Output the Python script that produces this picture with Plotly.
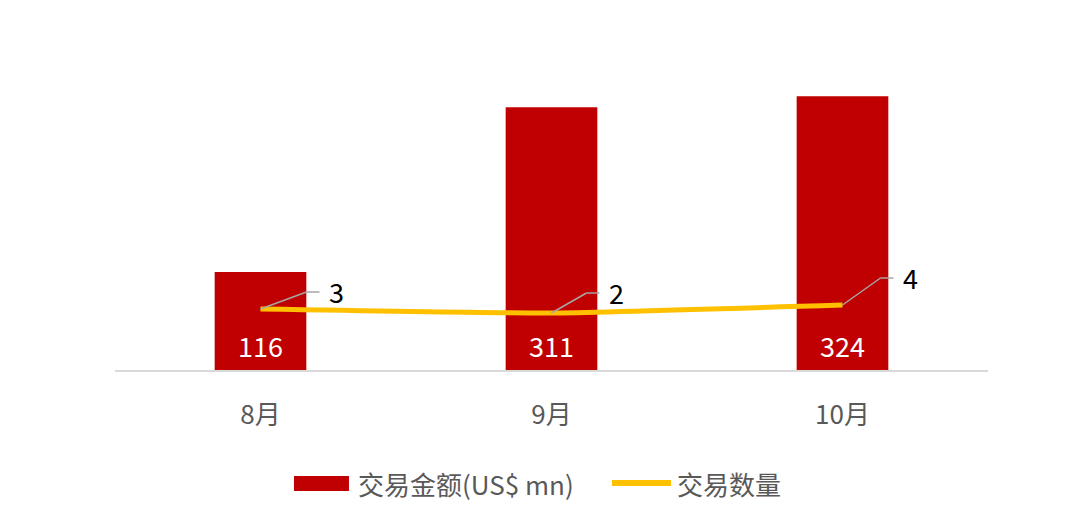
import plotly.graph_objects as go

# data
months = ["8月", "9月", "10月"]
deal_value = [116, 311, 324]   # 交易金额(US$ mn)
deal_count = [3, 2, 4]         # 交易数量
legend_names = ["交易金额(US$ mn)", "交易数量"]

# leader line offsets (px) for the count labels: diagonal end, then a short horizontal
leader_dx = [46, 35, 38]
leader_dy = [17, 20, 27]

bar_color = "#C00000"
line_color = "#FFC000"
grey_text = "#595959"
font_cn = "Noto Sans CJK SC, Noto Sans, sans-serif"

fig = go.Figure()

fig.add_trace(go.Bar(x=months, y=deal_value, name=legend_names[0],
                     marker=dict(color=bar_color, line=dict(width=0)),
                     width=0.315))

fig.add_trace(go.Scatter(x=months, y=deal_count, name=legend_names[1], yaxis="y2",
                         mode="lines",
                         line=dict(color=line_color, width=5, shape="spline", smoothing=0.4)))

annotations = []
shapes = []
for i, (m, v) in enumerate(zip(months, deal_value)):
    # value label at the foot of each bar
    annotations.append(dict(x=m, y=0, xref="x", yref="y", text=str(v),
                            showarrow=False, yanchor="bottom", yshift=3,
                            font=dict(size=27, color="white", family=font_cn)))

for i, (m, c) in enumerate(zip(months, deal_count)):
    dx, dy = leader_dx[i], leader_dy[i]
    # leader: diagonal from the point, then horizontal stub
    shapes.append(dict(type="line", xref="x", yref="y2",
                       xsizemode="pixel", ysizemode="pixel",
                       xanchor=i, yanchor=c,
                       x0=0, y0=0, x1=dx, y1=dy,
                       line=dict(color="#A6A6A6", width=1.5)))
    shapes.append(dict(type="line", xref="x", yref="y2",
                       xsizemode="pixel", ysizemode="pixel",
                       xanchor=i, yanchor=c,
                       x0=dx, y0=dy, x1=dx + 13, y1=dy,
                       line=dict(color="#A6A6A6", width=1.5)))
    annotations.append(dict(x=m, y=c, xref="x", yref="y2", text=str(c),
                            showarrow=False, xanchor="left",
                            xshift=dx + 20, yshift=dy + 1,
                            font=dict(size=27, color="black", family=font_cn)))

# legend drawn by hand so the swatches get the wide Office look
shapes.append(dict(type="rect", xref="paper", yref="paper",
                   x0=0.205, x1=0.268, y0=-0.358, y1=-0.3136,
                   fillcolor=bar_color, line=dict(width=0)))
shapes.append(dict(type="line", xref="paper", yref="paper",
                   x0=0.5693, x1=0.6369, y0=-0.334, y1=-0.334,
                   line=dict(color=line_color, width=6)))
annotations.append(dict(x=0.276, y=-0.337, xref="paper", yref="paper",
                        text=legend_names[0], showarrow=False,
                        xanchor="left", yanchor="middle",
                        font=dict(size=26, color=grey_text, family=font_cn)))
annotations.append(dict(x=0.6415, y=-0.337, xref="paper", yref="paper",
                        text=legend_names[1], showarrow=False,
                        xanchor="left", yanchor="middle",
                        font=dict(size=26, color=grey_text, family=font_cn)))

fig.update_layout(
    width=1080, height=528,
    margin=dict(l=107, r=100, t=24, b=166),
    paper_bgcolor="white",
    plot_bgcolor="white",
    font=dict(family=font_cn, color=grey_text),
    xaxis=dict(showline=True, linecolor="#D9D9D9", linewidth=1.5,
               showgrid=False, ticks="", ticklabelstandoff=21,
               tickfont=dict(size=26, color=grey_text)),
    yaxis=dict(range=[0, 400], visible=False, showgrid=False),
    yaxis2=dict(range=[-12.25, 72.25], overlaying="y", visible=False, showgrid=False),
    showlegend=False,
    annotations=annotations,
    shapes=shapes,
)

fig.write_html("out.html")
